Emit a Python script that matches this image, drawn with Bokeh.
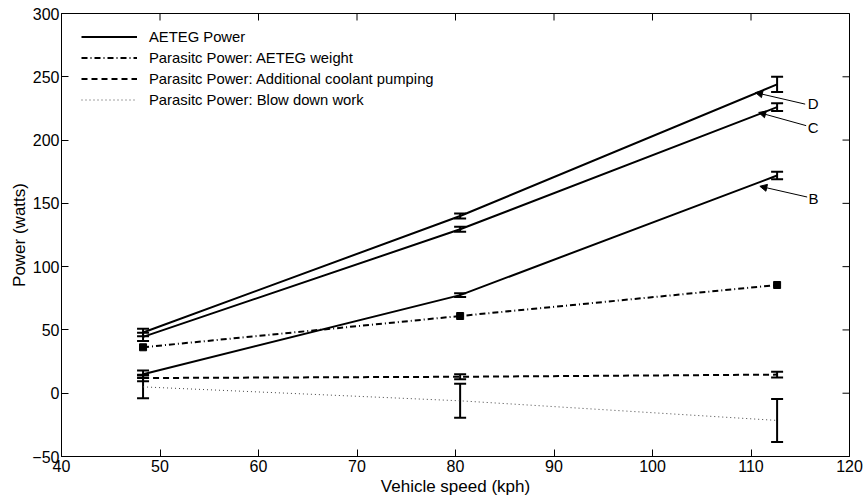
import math
from bokeh.plotting import figure
from bokeh.models import (Whisker, TeeHead, ColumnDataSource, Legend, LegendItem,
                          Arrow, NormalHead, Range1d, FixedTicker)
from bokeh.core.properties import value
from bokeh.embed import file_html
from bokeh.resources import INLINE

# ---- data ----
speed = [48.28, 80.47, 112.65]
power_d = [48.0, 140.0, 244.0]
err_d = [3.0, 2.0, 6.0]
power_c = [44.5, 129.5, 226.0]
err_c = [3.2, 2.0, 3.0]
power_b = [15.0, 77.5, 172.0]
err_b = [3.0, 1.5, 3.0]
weight = [36.3, 61.0, 85.5]
coolant = [12.0, 13.0, 14.7]
err_coolant = [2.5, 2.0, 2.2]
blowdown = [5.0, -6.0, -21.5]
err_blowdown = [9.0, 13.4, 17.0]

legend_labels = ["AETEG Power",
                 "Parasitc Power: AETEG weight",
                 "Parasitc Power: Additional coolant pumping",
                 "Parasitc Power: Blow down work"]
x_min, x_max = 40, 120
y_min, y_max = -50, 300
x_ticks = [40, 50, 60, 70, 80, 90, 100, 110, 120]
y_ticks = [-50, 0, 50, 100, 150, 200, 250, 300]
x_title = "Vehicle speed (kph)"
y_title = "Power (watts)"

note_text = ["D", "C", "B"]
note_x = [115.75, 115.75, 115.85]
note_y = [228.8, 210.0, 154.0]
arrow_x0 = [115.5, 115.6, 115.7]
arrow_y0 = [228.4, 211.4, 155.0]
arrow_x1 = [110.45, 110.78, 110.9]
arrow_y1 = [237.5, 221.8, 163.5]

FONT = "Liberation Sans"

p = figure(width=864, height=498,
           x_range=Range1d(x_min, x_max), y_range=Range1d(y_min, y_max),
           output_backend="svg", toolbar_location=None,
           min_border_left=61, min_border_right=15, min_border_top=13,
           min_border_bottom=40)
p.background_fill_color = "white"
p.border_fill_color = "white"
p.outline_line_color = "black"
p.outline_line_width = 1
p.xgrid.visible = False
p.ygrid.visible = False

p.xaxis.ticker = FixedTicker(ticks=x_ticks)
p.yaxis.ticker = FixedTicker(ticks=y_ticks)
for ax in (p.xaxis[0], p.yaxis[0]):
    ax.axis_line_color = "black"
    ax.axis_line_width = 1
    ax.major_tick_in = 7
    ax.major_tick_out = 0
    ax.major_tick_line_color = "black"
    ax.minor_tick_line_color = None
    ax.major_label_text_font = FONT
    ax.major_label_text_color = "black"
    ax.major_label_text_font_size = "16px"
    ax.major_label_standoff = 3
    ax.axis_label_text_font = FONT
    ax.axis_label_text_font_size = "17px"
    ax.axis_label_text_font_style = "normal"
    ax.axis_label_text_color = "black"
p.xaxis.axis_label = x_title
p.yaxis.axis_label = y_title
p.xaxis.major_label_standoff = 3
p.xaxis.axis_label_standoff = 2
p.yaxis.major_label_standoff = 2
p.yaxis.axis_label_standoff = 0

# inward ticks on the top and right edges of the box
p.scatter(x=[x_max] * len(y_ticks), y=y_ticks, marker="dash", size=14,
          line_color="black", line_width=1)
p.scatter(x=x_ticks, y=[y_max] * len(x_ticks), marker="dash", angle=math.pi / 2,
          size=14, line_color="black", line_width=1)

# ---- lines ----
r_d = p.line(speed, power_d, line_color="black", line_width=2)
p.line(speed, power_c, line_color="black", line_width=2)
p.line(speed, power_b, line_color="black", line_width=2)
r_w = p.line(speed, weight, line_color="black", line_width=2, line_dash="6 3 1 3")
p.scatter(speed, weight, marker="square", size=7, fill_color="black", line_color="black")
r_c = p.line(speed, coolant, line_color="black", line_width=2, line_dash="6 4")
r_b = p.line(speed, blowdown, line_color="#444444", line_width=1, line_dash="1 3")

# ---- error bars ----
for vals, errs in ((power_d, err_d), (power_c, err_c), (power_b, err_b),
                   (coolant, err_coolant), (blowdown, err_blowdown)):
    src = ColumnDataSource(dict(x=speed,
                                upper=[v + e for v, e in zip(vals, errs)],
                                lower=[v - e for v, e in zip(vals, errs)]))
    w = Whisker(source=src, base="x", upper="upper", lower="lower",
                dimension="height", line_color="black", line_width=2,
                upper_head=TeeHead(size=12, line_width=2, line_color="black"),
                lower_head=TeeHead(size=12, line_width=2, line_color="black"))
    p.add_layout(w)

# ---- annotations ----
asrc = ColumnDataSource(dict(x0=arrow_x0, y0=arrow_y0, x1=arrow_x1, y1=arrow_y1))
p.add_layout(Arrow(source=asrc, x_start="x0", y_start="y0", x_end="x1", y_end="y1",
                   line_color="black", line_width=1,
                   end=NormalHead(size=7, fill_color="black", line_color="black", line_width=1)))
p.text(x=note_x, y=note_y, text=note_text, text_font=value(FONT),
       text_font_size="15px", text_align="left", text_baseline="middle",
       text_color="black")

# ---- legend ----
legend = Legend(items=[LegendItem(label=legend_labels[0], renderers=[r_d]),
                       LegendItem(label=legend_labels[1], renderers=[r_w]),
                       LegendItem(label=legend_labels[2], renderers=[r_c]),
                       LegendItem(label=legend_labels[3], renderers=[r_b])],
                location=(20, 346), margin=0, padding=6, spacing=0,
                glyph_width=56, glyph_height=21, label_height=21, label_standoff=12,
                border_line_color=None, background_fill_alpha=0,
                label_text_font=FONT, label_text_font_size="14.8px",
                label_text_color="black")
p.add_layout(legend)

open("out.html", "w").write(file_html(p, INLINE))
